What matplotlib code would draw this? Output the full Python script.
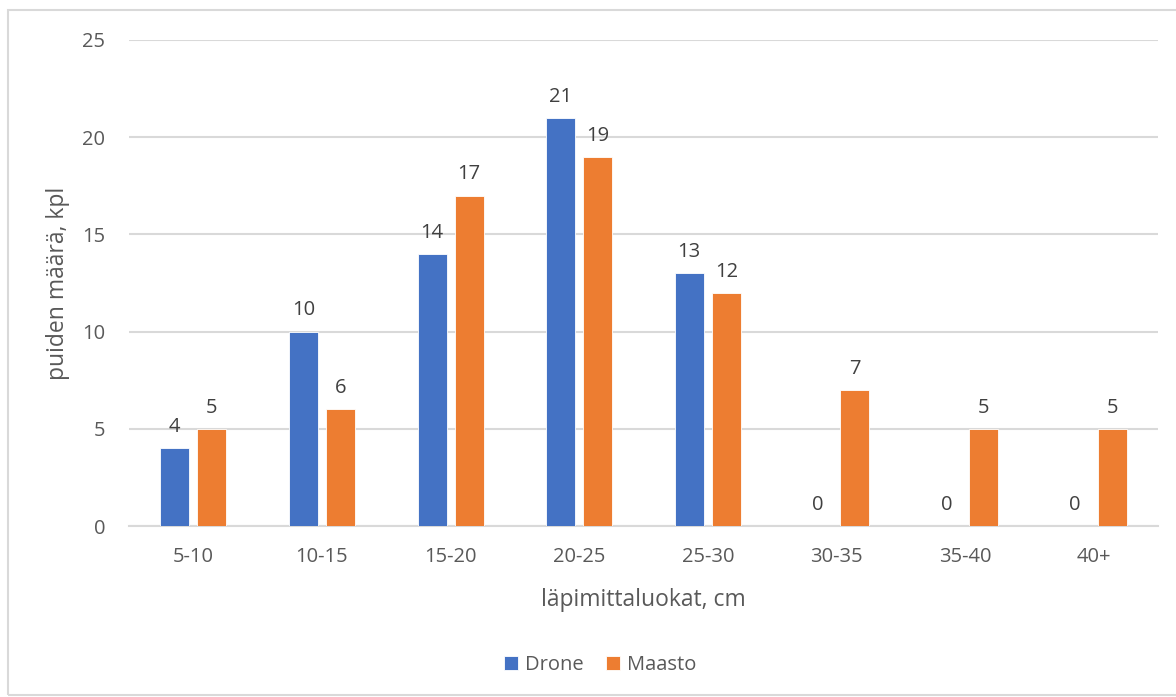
import matplotlib
matplotlib.use('Agg')
import matplotlib.pyplot as plt
from matplotlib.patches import Rectangle
import numpy as np

classes = ['5-10', '10-15', '15-20', '20-25', '25-30', '30-35', '35-40', '40+']
drone = [4, 10, 14, 21, 13, 0, 0, 0]
maasto = [5, 6, 17, 19, 12, 7, 5, 5]

BLUE = '#4472c4'
ORANGE = '#ed7d31'
TXT = '#595959'
GRID = '#d9d9d9'

plt.rcParams['font.family'] = ['Open Sans', 'DejaVu Sans']

fig = plt.figure(figsize=(11.76, 6.97), dpi=100)
ax = fig.add_axes([129 / 1176, 1 - 526 / 697, (1158 - 129) / 1176, (526 - 40) / 697])

# chart frame
fig.patches.append(Rectangle((8 / 1176, 2 / 697), 1.2, 1 - 12 / 697,
                             transform=fig.transFigure, fill=False,
                             edgecolor='#d9d9d9', linewidth=1.5))

x = np.arange(len(classes))
w = 0.225
off = 0.144
b1 = ax.bar(x - off, drone, width=w, color=BLUE, edgecolor='white', linewidth=0.6, zorder=3)
b2 = ax.bar(x + off, maasto, width=w, color=ORANGE, edgecolor='white', linewidth=0.6, zorder=3)

for bars, vals in ((b1, drone), (b2, maasto)):
    for bar, v in zip(bars, vals):
        ax.annotate(f'{v}', (bar.get_x() + bar.get_width() / 2, v),
                    xytext=(0, 8), textcoords='offset points',
                    ha='center', va='bottom', fontsize=14.5, color='#404040')

ax.set_xlim(-0.5, len(classes) - 0.5)
ax.set_ylim(0, 25)
ax.set_yticks(range(0, 26, 5))
ax.yaxis.grid(True, color=GRID, linewidth=1.5, zorder=0)
ax.set_axisbelow(True)
for s in ('top', 'right', 'left'):
    ax.spines[s].set_visible(False)
ax.spines['bottom'].set_color(GRID)
ax.spines['bottom'].set_linewidth(1.5)
ax.set_xticks(x)
ax.set_xticklabels(classes)
ax.tick_params(axis='both', length=0, labelsize=14.5, labelcolor=TXT)
ax.tick_params(axis='x', pad=15)
ax.tick_params(axis='y', pad=17)

ax.set_xlabel('läpimittaluokat, cm', fontsize=16.5, color=TXT, labelpad=15)
ax.set_ylabel('puiden määrä, kpl', fontsize=16.5, color=TXT, va='center')
ax.yaxis.set_label_coords(-0.069, 0.5)

leg = fig.legend([b1, b2], ['Drone', 'Maasto'], loc='center',
                 bbox_to_anchor=(600 / 1176, 1 - 665 / 697), ncol=2, frameon=False,
                 fontsize=14.5, handlelength=0.7, handleheight=0.7, handletextpad=0.35,
                 columnspacing=1.1)
for t in leg.get_texts():
    t.set_color(TXT)

fig.savefig('out.png', dpi=100)
